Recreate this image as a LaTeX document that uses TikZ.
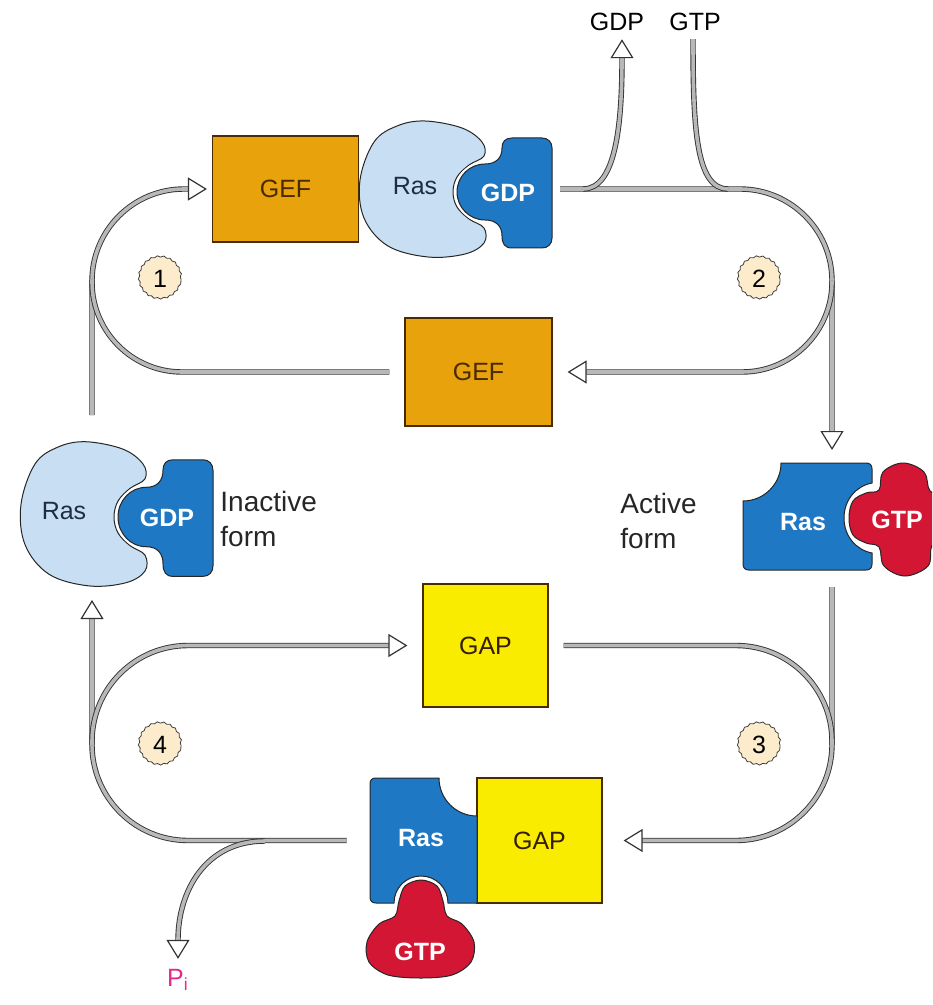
\documentclass[tikz,border=0pt]{standalone}
\usepackage{fontspec}
\setmainfont{Liberation Sans}
\usetikzlibrary{arrows.meta,decorations.pathmorphing}
\definecolor{gefc}{RGB}{232,162,12}
\definecolor{rasl}{RGB}{200,222,242}
\definecolor{rasb}{RGB}{30,120,196}
\definecolor{gtpr}{RGB}{210,22,52}
\definecolor{gapy}{RGB}{250,236,0}
\definecolor{creamc}{RGB}{253,236,204}
\definecolor{pimag}{RGB}{228,40,140}
\definecolor{brownt}{RGB}{74,42,0}
\definecolor{navyt}{RGB}{30,45,70}
\newcommand\mylbl{\fontsize{12.5}{15}\selectfont}
\newcommand\myform{\fontsize{14}{17.5}\selectfont}
\newcommand\rasGdpComplex{%
  \filldraw[shapeline, fill=rasl] plot[smooth cycle, tension=0.6] coordinates {
    (-60,-71) (-23,-64) (-3,-50) (-1,-36) (-16,-27) (-28,-15) (-32,0) (-28,15)
    (-16,27) (-1,36) (-1,51) (-20,62) (-57,65) (-97,54) (-121,26) (-125,-12)
    (-111,-50) (-88,-66)};
  \filldraw[shapeline, fill=rasb, preaction={draw=white, line width=2.5pt}]
    (27,-54) -- (57,-54) .. controls (63,-54) and (67,-50) .. (67,-44)
    -- (67,46) .. controls (67,52) and (63,56) .. (57,56)
    -- (27,56) .. controls (20,56) and (17,52) .. (17,44)
    .. controls (17,34) and (11,28) .. (0,28)
    .. controls (-15.5,28) and (-28,15.5) .. (-28,0)
    .. controls (-28,-15.5) and (-15.5,-28) .. (0,-28)
    .. controls (11,-28) and (17,-34) .. (17,-44)
    .. controls (17,-50) and (20,-54) .. (27,-54) -- cycle;
}
\begin{document}
\begin{tikzpicture}[x=0.5pt,y=-0.5pt,
  shapeline/.style={draw=black!85, line width=0.5pt},
  flow/.style={draw=black!80, line width=0.45pt, double=black!28, double distance=1.8pt},
  rc/.style={rounded corners=#1},
  headtip/.style={-{Triangle[open,length=9.5pt,width=11.5pt,line width=0.6pt]}},
  gefbox/.style={draw=brownt, fill=gefc, line width=0.6pt, inner sep=0pt, text=brownt, font=\mylbl},
  gapbox/.style={draw=brownt, fill=gapy, line width=0.6pt, inner sep=0pt, text=brownt!70!black, font=\mylbl},
  lbl/.style={font=\mylbl, inner sep=1pt},
  wlbl/.style={font=\mylbl\bfseries, text=white, inner sep=1pt},
  dlbl/.style={font=\mylbl, text=navyt, inner sep=1pt},
  formlbl/.style={font=\myform, text=black!85, align=left, anchor=west, inner sep=0pt},
  badge/.style={circle, fill=creamc, minimum size=21pt, inner sep=0pt, font=\mylbl,
    draw=black!75, line width=0.4pt, decorate,
    decoration={snake, segment length=3.2pt, amplitude=0.35pt}}
]
\useasboundingbox (0,0) rectangle (932,1005);
\clip (0,0) rectangle (932,1005);

% ---------- boxes ----------
\node[gefbox, minimum width=73pt, minimum height=53pt] (gefA) at (285.5,189) {GEF};
\node[gefbox, minimum width=73.5pt, minimum height=54pt] (gefB) at (478.5,372) {GEF};
\node[gapbox, minimum width=62.5pt, minimum height=61.5pt] (gapA) at (485.5,645.5) {GAP};
\node[gapbox, minimum width=62.5pt, minimum height=62.5pt] (gapB) at (539.5,840.5) {GAP};
\node[inner sep=0pt, minimum width=53.5pt, minimum height=62.5pt] (rasB) at (423.5,840.5) {};

% ---------- labels ----------
\node[lbl] (gdpT) at (617,22) {GDP};
\node[lbl] (gtpT) at (695,22) {GTP};
\node[lbl, text=pimag] (piT) at (178,980) {P\textsubscript{i}};
\node[badge] (n1) at (160,279) {1};
\node[badge] (n2) at (759,279) {2};
\node[badge] (n3) at (759,745) {3};
\node[badge] (n4) at (160,745) {4};
\node[formlbl] (inT) at (220,519) {Inactive\\form};
\node[formlbl] (acT) at (620,521) {Active\\form};

% ---------- connector coordinates ----------
\coordinate (c1s) at (92,415);
\coordinate (c1m) at (92,280);
\coordinate (c2s) at (560,189);
\coordinate (c2t) at (832,450);
\coordinate (c2m) at (832,281);
\coordinate (c3s) at (832,587);
\coordinate (c3m) at (832,745);
\coordinate (c4t) at (92,600);
\coordinate (c4m) at (92,745);
\coordinate (b1) at (583,189);
\coordinate (b2) at (728,189);
\coordinate (b3) at (265,841);

% ---------- connectors ----------
\draw[flow, rc=46pt, headtip, shorten >=2.5pt] (c1s) |- (gefA.west);
\draw[flow, rc=45pt, shorten <=7.5pt] (gefB.west) -| (c1m);
\draw[flow, rc=46pt, headtip] (c2s) -| (c2t);
\draw[flow, rc=45pt, headtip, shorten >=7.5pt] (c2m) |- (gefB.east);
\draw[flow, headtip, shorten >=3pt] (b1) .. controls +(32,0) and +(0,95) .. ([xshift=2.5pt]gdpT.south);
\draw[flow, shorten <=3pt] ([xshift=-1pt]gtpT.south) .. controls +(0,95) and +(-32,0) .. (b2);
\draw[flow, rc=48pt, headtip, shorten >=10.5pt] (c3s) |- (gapB.east);
\draw[flow, rc=48pt, shorten <=7.5pt] (gapA.east) -| (c3m);
\draw[flow, rc=48pt, headtip, shorten <=11.5pt] (rasB.west) -| (c4t);
\draw[flow, rc=48pt, headtip, shorten >=7.5pt] (c4m) |- (gapA.west);
\draw[flow, headtip, shorten >=4pt] (b3) .. controls +(-60,0) and +(0,-75) .. (piT.north);

% ---------- top complex (GEF-Ras-GDP) ----------
\begin{scope}[shift={(485,192)}]
  \rasGdpComplex
\end{scope}
\node[dlbl] (rasTl) at (415,186) {Ras};
\node[wlbl] (gdpTl) at (508,193) {GDP};

% ---------- inactive Ras-GDP ----------
\begin{scope}[shift={(146,517)}, yscale=1.06]
  \rasGdpComplex
\end{scope}
\node[dlbl] (rasIl) at (64,511) {Ras};
\node[wlbl] (gdpIl) at (167,518) {GDP};

% ---------- active Ras-GTP ----------
\filldraw[shapeline, fill=rasb]
  (781,463) -- (866,463) .. controls (870,463) and (872,465) .. (872,469)
  -- (872,483) .. controls (856,486) and (844,500) .. (844,518)
  .. controls (844,536) and (856,550) .. (872,553)
  -- (872,564) .. controls (872,568) and (870,570) .. (866,570)
  -- (749,570) .. controls (745,570) and (743,568) .. (743,564)
  -- (743,501) .. controls (764,501) and (781,484) .. (781,463) -- cycle;
\filldraw[shapeline, fill=gtpr, preaction={draw=white, line width=2.5pt}]
  plot[smooth cycle, tension=0.6] coordinates {
  (849,518) (853,501) (866,493) (879,490) (883,472) (903,463) (924,472) (930,491)
  (946,498) (956,518) (946,540) (932,546) (928,566) (905,576) (884,566) (879,547)
  (866,543) (853,535)};
\node[wlbl] (rasAl) at (803,522) {Ras};
\node[wlbl] (gtpAl) at (897,520) {GTP};

% ---------- bottom complex (Ras-GTP-GAP) ----------
\filldraw[shapeline, fill=rasb]
  (376,778) -- (439,778) .. controls (439,799) and (456,816) .. (477,816)
  -- (477,903) -- (448,903) .. controls (448,888) and (436,876) .. (421,876)
  .. controls (406,876) and (394,888) .. (394,903)
  -- (376,903) .. controls (372,903) and (370,901) .. (370,897)
  -- (370,784) .. controls (370,780) and (372,778) .. (376,778) -- cycle;
\filldraw[shapeline, fill=gtpr, preaction={draw=white, line width=2.5pt}]
  plot[smooth cycle, tension=0.55] coordinates {
  (421,880) (437,886) (443,901) (447,916) (462,924) (474,942) (471,962) (452,975)
  (421,978) (388,975) (369,962) (367,942) (379,924) (395,916) (399,901) (405,886)};
\node[wlbl] (rasBl) at (421,838) {Ras};
\node[wlbl] (gtpBl) at (420,952) {GTP};
\end{tikzpicture}
\end{document}
